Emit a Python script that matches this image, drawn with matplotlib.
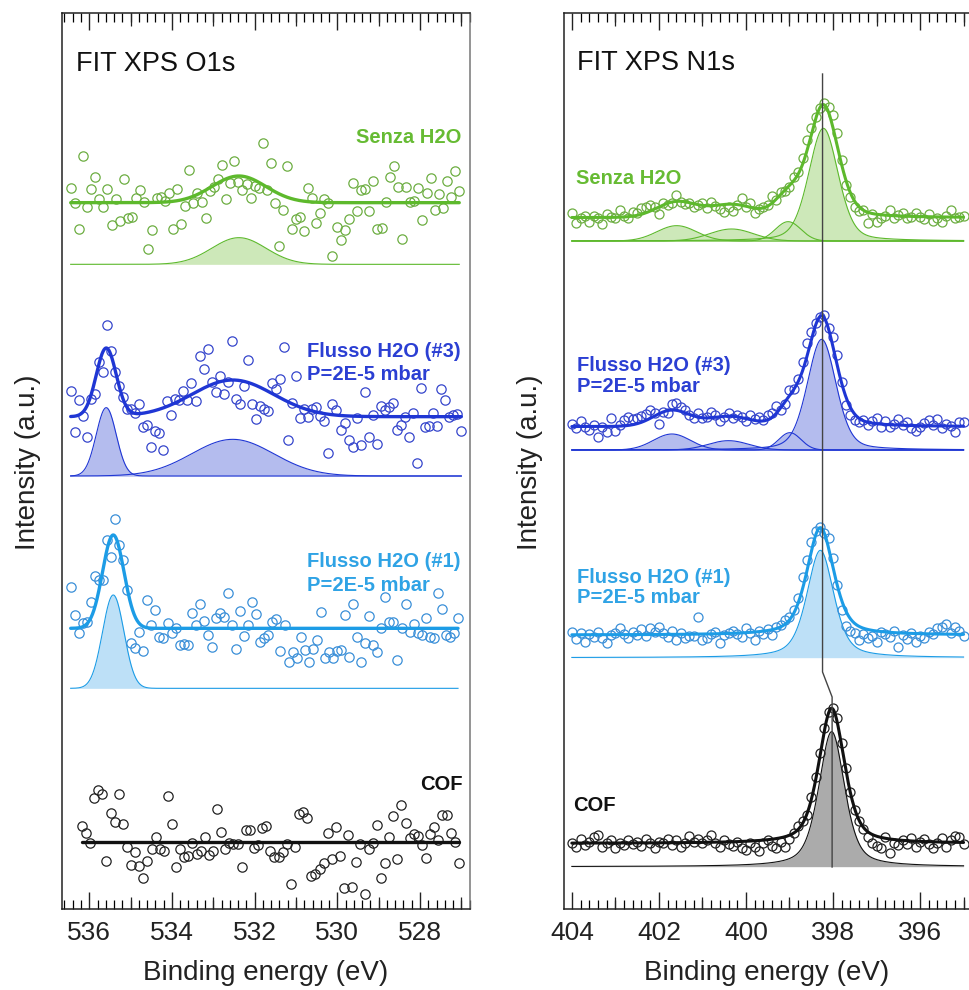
import numpy as np
import matplotlib
matplotlib.use("Agg")
import matplotlib.pyplot as plt
from matplotlib.ticker import MultipleLocator, FixedLocator

plt.rcParams['font.family'] = ['Liberation Sans', 'DejaVu Sans']

# ---------------- O1s data (intensity relative to fit background, a.u.) ----------------
o1s_senza_range = (536.45, 527.05)
o1s_senza = [45, -2, -79, 140, -14, 40, 76, 10, -14, 40,
             -68, 10, -54, 71, -47, -44, 13, 38, 3, -140,
             -82, 13, 18, 5, 30, -80, 40, -64, -9, 98,
             -2, 28, 3, -45, 36, 48, 70, 114, 11, 60,
             125, 63, 38, 56, 15, 50, 43, 178, 38, 120,
             -2, -130, -22, 111, -78, -50, -42, -84, 45, 13,
             -62, -32, 11, -2, -160, -74, -112, -82, -50, 58,
             -25, 38, 40, -25, 65, -80, -75, 1, 78, 110,
             46, -110, 48, 3, 5, 43, -52, 28, 75, -22,
             26, -17, 66, 16, 96, 36]

o1s_flux3_range = (536.45, 527.0)
o1s_flux3 = [77, -47, 49, 2, -60, 54, 67, 164, 135, 275,
             198, 135, 92, 60, 24, 24, 10, 37, -30, -25,
             -90, -43, -48, -100, 48, 5, 53, 50, 78, 50,
             102, 48, 182, 143, 202, 105, 75, 122, 67, 105,
             228, 52, 38, 92, 170, 38, -7, 32, 23, 17,
             100, 82, 112, 210, -70, 40, 122, -5, 23, 0,
             23, 28, 2, -12, -110, 37, 20, -40, -18, -70,
             -90, -5, -86, 75, -60, 5, -82, 32, 20, 30,
             40, -40, -25, 0, -60, 10, -138, 85, -30, -28,
             10, -28, 82, 50, 0, 5, 8, -43]

o1s_flux1_range = (536.45, 527.08)
o1s_flux1 = [123, 40, -15, 17, 20, 80, 157, 145, 145, 265,
             213, 327, 250, 205, 115, -43, -60, -12, -68, 85,
             10, 55, -25, -30, 17, -15, 0, -50, -47, -50,
             45, 10, 73, 23, -20, -55, 30, 45, 35, 107,
             10, -63, 53, -23, 10, 80, 43, -40, -30, -20,
             20, 27, -67, 10, -100, -70, -90, -25, -65, -100,
             -63, -35, 50, -90, -70, -90, -67, -65, 40, -85,
             72, -25, -100, -45, 37, -50, -70, 0, 95, 20,
             20, -95, 0, 73, -10, 13, -15, -20, 30, -27,
             -30, 105, 57, -20, -27, -13, 30]

o1s_cof_range = (536.18, 527.06)
o1s_cof = [50, 29, -3, 132, 157, 145, -56, 89, 62, 144,
           54, -13, -68, -28, -70, -108, -56, -21, 15, -21,
           -26, 140, 54, -75, -20, -43, -41, -3, -35, -26,
           17, -38, -26, 99, 30, -20, -3, -6, -5, -73,
           37, 37, -18, -8, 42, 49, -25, -43, -43, -28,
           -5, -126, -13, 85, 90, 74, -101, -95, -81, -61,
           27, -50, 47, -41, -138, 22, -133, -58, -6, -156,
           -21, -3, 52, -108, -63, 15, 79, -50, 112, 59,
           14, 25, 20, -8, -46, 24, 47, 7, 82, 82,
           27, 0, -63]

# ---------------- N1s data (404.0 -> 395.0 eV, 0.1 eV step) ----------------
n1s_range = (404.0, 395.0)
n1s_senza = [13, -17, -2, 5, -12, 5, -2, -19, 11, 3,
             -2, 23, 5, -2, 18, 13, 28, 31, 38, 33,
             11, 43, 38, 45, 68, 48, 41, 43, 31, 38,
             43, 28, 48, 35, 25, 18, 33, 21, 38, 58,
             31, 43, 15, 25, 33, 38, 65, 53, 78, 81,
             93, 121, 138, 178, 233, 268, 303, 328, 343, 333,
             308, 253, 173, 98, 63, 31, 21, 23, -17, 11,
             -12, -2, 5, 23, -2, 8, 13, -2, 3, 15,
             3, -5, 11, -9, -2, -12, 5, 23, -2, 3, 5]

n1s_flux3 = [8, -5, 18, 0, -10, 5, -32, -2, -15, 25,
             -12, 5, 20, 28, 22, 25, 32, 38, 50, 40,
             8, 45, 40, 68, 70, 58, 50, 35, 25, 40,
             25, 30, 45, 35, 18, 30, 40, 25, 35, 28,
             18, 35, 22, 30, 20, 35, 40, 62, 50, 68,
             110, 112, 142, 195, 250, 285, 310, 330, 335, 295,
             270, 215, 135, 65, 35, 20, 15, 20, 5, 18,
             25, 0, 18, 0, 8, 22, 5, 15, -5, -12,
             0, 12, 20, 5, 22, -5, 8, 2, -15, 15, 15]

n1s_flux1 = [10, -13, 7, -20, 3, -5, 10, -10, -25, 0,
             7, 20, 3, -10, 10, 0, 17, -3, 20, 10,
             25, 5, -5, 13, -15, 7, -10, -3, -3, 53,
             -15, -10, 3, 10, -23, 0, 7, 13, 3, -5,
             20, 7, -15, 13, 3, 17, 0, 23, 30, 45,
             53, 75, 110, 175, 225, 280, 313, 325, 305, 290,
             230, 150, 75, 27, 13, 7, -15, 3, -10, -3,
             -20, 10, 3, -5, 13, -37, 0, -13, 5, -20,
             -3, -10, 10, 3, 20, 25, 33, 7, 25, 13, -3]

n1s_cof = [2, -10, 12, -5, 5, 20, 25, -10, 2, 10,
           -15, 0, -5, 10, -2, 5, -8, 12, 0, -15,
           5, 0, 12, -5, 10, -12, 2, 22, 5, 12,
           0, 10, 25, 2, -10, 10, -2, -8, 5, -15,
           -20, 2, -10, -22, 0, 10, -8, -15, 5, -10,
           12, 30, 52, 68, 85, 140, 200, 270, 345, 395,
           405, 375, 300, 225, 155, 100, 68, 42, 20, 0,
           -8, -15, 20, -30, 2, -5, 10, -2, 15, -10,
           5, 12, -2, -15, 2, 15, -10, 10, 22, 20, -2]

# ---------------- fitted components: centre (eV), height, FWHM (eV), Lorentz fraction ----------------
o1s_senza_comp = dict(c=[532.38], a=[80], w=[1.54], eta=[0.0])
o1s_flux3_comp = dict(c=[535.59, 532.53], a=[205, 110], w=[0.57, 2.34], eta=[0.0, 0.0])
o1s_flux1_comp = dict(c=[535.42], a=[280], w=[0.61], eta=[0.0])
o1s_cof_comp = dict(c=[], a=[], w=[], eta=[])

n1s_senza_comp = dict(c=[401.59, 400.33, 399.03, 398.22], a=[46, 36, 58, 338],
                      w=[1.07, 1.19, 0.69, 0.80], eta=[0.0, 0.0, 0.0, 0.3])
n1s_flux3_comp = dict(c=[401.70, 400.40, 398.99, 398.26], a=[48, 28, 52, 332],
                      w=[1.0, 1.1, 0.6, 0.78], eta=[0.0, 0.0, 0.0, 0.3])
n1s_flux1_comp = dict(c=[398.29], a=[322], w=[0.73], eta=[0.5])
n1s_cof_comp = dict(c=[398.03], a=[405], w=[0.70], eta=[0.5])

# vertical offsets of the stacked spectra (data/fit background, component background)
o1s_offsets = [(2116, 1931), (1474, 1296), (839, 659), (197, None)]
n1s_offsets = [(2071, 2001), (1444, 1374), (819, 751), (194, 124)]

# guide line marking the N1s main peak position
guide_be = [398.24, 398.24, 398.02, 398.02]
guide_y = [2502, 708, 633, 123]

labels = ['Senza H2O', 'Flusso H2O (#3)', 'Flusso H2O (#1)', 'COF']

line_cols = ['#5DB92C', '#1F36D4', '#1C9CE6', '#111111']
mark_cols = ['#6DAE42', '#3646CC', '#3A8FD8', '#222222']
fill_cols = ['#CDE8B9', '#B4BCEE', '#BDE0F7', '#ABABAB']
text_cols = ['#66BB33', '#2B3FD3', '#2FA3E5', '#111111']


def pvoigt(x, c, a, w, eta):
    g = np.exp(-4 * np.log(2) * ((x - c) / w) ** 2)
    l = 1.0 / (1 + 4 * ((x - c) / w) ** 2)
    return a * (eta * l + (1 - eta) * g)


def draw(ax, rng, vals, comp, off, cbase, i, ms, lw_fit):
    vals = np.asarray(vals, dtype=float)
    be = np.linspace(rng[0], rng[1], len(vals))
    ax.plot(be, vals + off, linestyle='none', marker='o', mfc='none',
            mec=mark_cols[i], ms=ms, mew=0.9, zorder=3)
    x = np.linspace(rng[0], rng[1], 800)
    total = np.zeros_like(x)
    for c, a, w, eta in zip(comp['c'], comp['a'], comp['w'], comp['eta']):
        y = pvoigt(x, c, a, w, eta)
        total += y
        ax.fill_between(x, cbase, cbase + y, color=fill_cols[i], lw=0, zorder=1)
        ax.plot(x, cbase + y, color=line_cols[i], lw=0.8, zorder=2)
    ax.plot(x, off + total, color=line_cols[i], lw=lw_fit, zorder=4,
            solid_capstyle='round')


W, H = 969, 990
fig = plt.figure(figsize=(W / 100, H / 100), dpi=100)

axL = fig.add_axes([62 / W, 1 - 909 / H, 408 / W, 896 / H])
axR = fig.add_axes([564 / W, 1 - 909 / H, 405 / W, 896 / H])

o1s_sets = [(o1s_senza_range, o1s_senza, o1s_senza_comp),
            (o1s_flux3_range, o1s_flux3, o1s_flux3_comp),
            (o1s_flux1_range, o1s_flux1, o1s_flux1_comp),
            (o1s_cof_range, o1s_cof, o1s_cof_comp)]
for i, ((rng, vals, comp), (off, cb)) in enumerate(zip(o1s_sets, o1s_offsets)):
    draw(axL, rng, vals, comp, off, cb, i, 6.7, 2.4)

n1s_sets = [n1s_senza, n1s_flux3, n1s_flux1, n1s_cof]
n1s_comps = [n1s_senza_comp, n1s_flux3_comp, n1s_flux1_comp, n1s_cof_comp]
for i, (vals, comp, (off, cb)) in enumerate(zip(n1s_sets, n1s_comps, n1s_offsets)):
    draw(axR, n1s_range, vals, comp, off, cb, i, 6.5, 2.2)

axR.plot(guide_be, guide_y, color='#444444', lw=1.0, zorder=5)

for ax, xl, med in [(axL, (536.66, 526.79), [535, 533, 531, 529, 527]),
                    (axR, (404.18, 394.875), [403, 401, 399, 397, 395])]:
    # twin axis only used to draw the intermediate (1 eV) tick marks
    tw = ax.twiny()
    tw.set_xlim(*xl)
    tw.xaxis.set_major_locator(FixedLocator(med))
    tw.xaxis.set_minor_locator(FixedLocator([]))
    tw.tick_params(axis='x', which='major', direction='in', length=9, width=0.9,
                   top=True, bottom=True, labeltop=False, labelbottom=False,
                   colors='#222222')
    for s in tw.spines.values():
        s.set_visible(False)

    ax.set_xlim(*xl)
    ax.set_ylim(-3, 2685)
    ax.set_yticks([])
    ax.xaxis.set_major_locator(MultipleLocator(2))
    ax.xaxis.set_minor_locator(MultipleLocator(0.2))
    ax.tick_params(axis='x', which='major', direction='in', length=12, width=1.0,
                   top=True, bottom=True, labeltop=False, labelbottom=True,
                   labelsize=19, pad=9, colors='#222222')
    ax.tick_params(axis='x', which='minor', direction='in', length=6.5, width=0.9,
                   top=True, bottom=True)
    for s in ax.spines.values():
        s.set_linewidth(1.1)
        s.set_color('#222222')

axL.spines['right'].set_color('#777777')
axR.spines['right'].set_visible(False)

# titles
axL.text(0.034, 0.943, 'FIT XPS O1s', transform=axL.transAxes, fontsize=19.5,
         ha='left', va='center', color='#111111')
axR.text(0.031, 0.944, 'FIT XPS N1s', transform=axR.transAxes, fontsize=19.5,
         ha='left', va='center', color='#111111')

fs = 14.5
# O1s labels
axL.text(0.980, 0.8605, labels[0], transform=axL.transAxes, fontsize=fs,
         weight='bold', ha='right', va='center', color=text_cols[0])
axL.text(0.6005, 0.6217, labels[1], transform=axL.transAxes, fontsize=fs,
         weight='bold', ha='left', va='center', color=text_cols[1])
axL.text(0.6005, 0.596, 'P=2E-5 mbar', transform=axL.transAxes, fontsize=fs,
         weight='bold', ha='left', va='center', color=text_cols[1])
axL.text(0.6005, 0.3873, labels[2], transform=axL.transAxes, fontsize=fs,
         weight='bold', ha='left', va='center', color=text_cols[2])
axL.text(0.6005, 0.3616, 'P=2E-5 mbar', transform=axL.transAxes, fontsize=fs,
         weight='bold', ha='left', va='center', color=text_cols[2])
axL.text(0.983, 0.1384, labels[3], transform=axL.transAxes, fontsize=fs,
         weight='bold', ha='right', va='center', color=text_cols[3])

# N1s labels
axR.text(0.0296, 0.8158, labels[0], transform=axR.transAxes, fontsize=fs,
         weight='bold', ha='left', va='center', color=text_cols[0])
axR.text(0.0313, 0.6071, labels[1], transform=axR.transAxes, fontsize=fs,
         weight='bold', ha='left', va='center', color=text_cols[1])
axR.text(0.0313, 0.5826, 'P=2E-5 mbar', transform=axR.transAxes, fontsize=fs,
         weight='bold', ha='left', va='center', color=text_cols[1])
axR.text(0.0313, 0.3705, labels[2], transform=axR.transAxes, fontsize=fs,
         weight='bold', ha='left', va='center', color=text_cols[2])
axR.text(0.0313, 0.3471, 'P=2E-5 mbar', transform=axR.transAxes, fontsize=fs,
         weight='bold', ha='left', va='center', color=text_cols[2])
axR.text(0.0215, 0.115, labels[3], transform=axR.transAxes, fontsize=fs,
         weight='bold', ha='left', va='center', color=text_cols[3])

# axis labels
for xc in (266, 767):
    fig.text(xc / W, 1 - 973 / H, 'Binding energy (eV)', fontsize=20,
             ha='center', va='center', color='#222222')
for xc in (28, 530):
    fig.text(xc / W, 1 - 462 / H, 'Intensity (a.u.)', fontsize=20, rotation=90,
             ha='center', va='center', color='#222222')

fig.savefig('out.png', dpi=100)
